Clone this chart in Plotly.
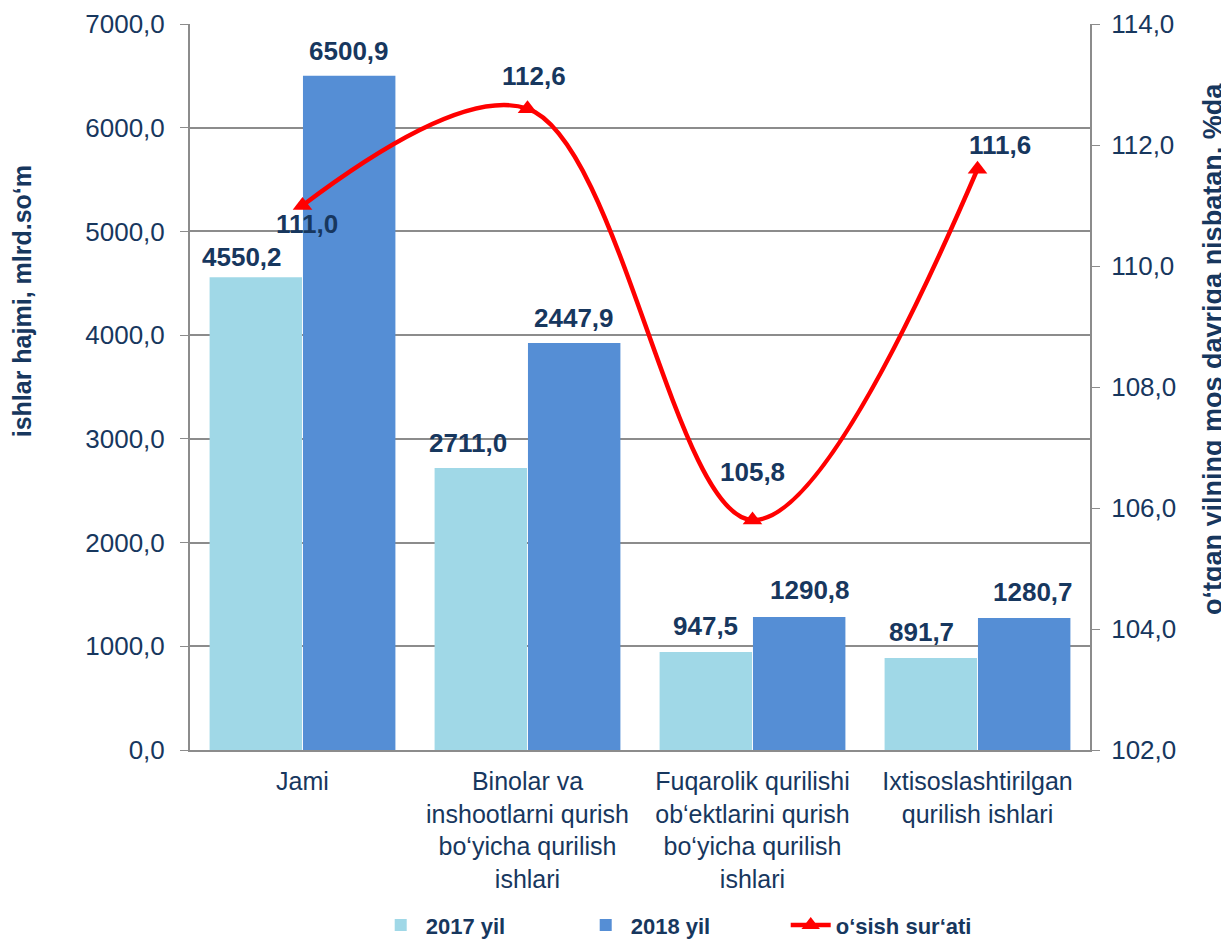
import plotly.graph_objects as go

categories = [
    "Jami",
    "Binolar va<br>inshootlarni qurish<br>bo‘yicha qurilish<br>ishlari",
    "Fuqarolik qurilishi<br>ob‘ektlarini qurish<br>bo‘yicha qurilish<br>ishlari",
    "Ixtisoslashtirilgan<br>qurilish ishlari",
]
# bar heights as drawn in the picture
bars_2017 = [4558, 2719, 945, 887]
bars_2018 = [6500, 3925, 1283, 1273]
# data labels as printed
labels_2017 = ["4550,2", "2711,0", "947,5", "891,7"]
labels_2018 = ["6500,9", "2447,9", "1290,8", "1280,7"]
growth = [111.0, 112.6, 105.8, 111.6]
growth_labels = ["111,0", "112,6", "105,8", "111,6"]

NAVY = "#17375E"
GRID = "#8C8C8C"
FONT = "Liberation Sans, Arial, sans-serif"

fig = go.Figure()
fig.add_trace(go.Bar(x=categories, y=bars_2017, name="<b>2017 yil</b>",
                     marker=dict(color="#A0D8E7", line=dict(width=0))))
fig.add_trace(go.Bar(x=categories, y=bars_2018, name="<b>2018 yil</b>",
                     marker=dict(color="#558ED5", line=dict(width=0))))
fig.add_trace(go.Scatter(x=categories, y=growth, yaxis="y2", name="<b>o‘sish sur‘ati</b>",
                         mode="lines+markers",
                         line=dict(color="#FF0000", width=4.5, shape="spline", smoothing=1.0),
                         marker=dict(symbol="triangle-up", size=17, color="#FF0000")))

annotations = []
bar_off = 46.75
x_adj_2017 = [-14, -13, 0, -9]
x_adj_2018 = [0, 0, 11, 9]
y_adj_2017 = [20, 25, 26, 26]
y_adj_2018 = [25, 25, 27, 26]
LBL = dict(size=26, color=NAVY, family=FONT)
for i, c in enumerate(categories):
    annotations.append(dict(x=c, y=bars_2017[i], xref="x", yref="y", text="<b>%s</b>" % labels_2017[i],
                            showarrow=False, xshift=-bar_off + x_adj_2017[i], yshift=y_adj_2017[i],
                            yanchor="middle", font=LBL))
    annotations.append(dict(x=c, y=bars_2018[i], xref="x", yref="y", text="<b>%s</b>" % labels_2018[i],
                            showarrow=False, xshift=bar_off + x_adj_2018[i], yshift=y_adj_2018[i],
                            yanchor="middle", font=LBL))
line_xs = [4, 6, 0, 22]
line_ys = [-18, 33, 48, 24]
for i, c in enumerate(categories):
    annotations.append(dict(x=c, y=growth[i], xref="x", yref="y2", text="<b>%s</b>" % growth_labels[i],
                            showarrow=False, xshift=line_xs[i], yshift=line_ys[i],
                            yanchor="middle", font=LBL))

annotations.append(dict(x=-0.1867, y=0.618, xref="paper", yref="paper", text="<b>ishlar hajmi, mlrd.so‘m</b>",
                        textangle=-90, showarrow=False, xanchor="center", yanchor="middle",
                        font=dict(size=25, color=NAVY, family=FONT)))
annotations.append(dict(x=1.136, y=0.553, xref="paper", yref="paper",
                        text="<b>o‘tgan yilning mos davriga nisbatan, %da</b>",
                        textangle=-90, showarrow=False, xanchor="center", yanchor="middle",
                        font=dict(size=27, color=NAVY, family=FONT)))

fig.update_layout(
    width=1221, height=936,
    margin=dict(l=182, r=139, t=16, b=194),
    paper_bgcolor="white", plot_bgcolor="white",
    separators=", ",
    barmode="group", bargap=0.17, bargroupgap=0.01,
    font=dict(family=FONT, color=NAVY, size=25),
    showlegend=True,
    legend=dict(orientation="h", xref="container", yref="container", x=0.553, y=0.02,
                xanchor="center", yanchor="middle",
                font=dict(size=22, color=NAVY, family=FONT), itemwidth=40, entrywidth=150,
                traceorder="normal"),
    xaxis=dict(showline=True, linecolor=GRID, linewidth=2, ticks="", automargin=False,
               tickfont=dict(size=25, color=NAVY, family=FONT), showgrid=False, ticklabelstandoff=8),
    yaxis=dict(range=[0, 7000], dtick=1000, tickformat=".1f", showgrid=True, gridcolor=GRID, gridwidth=1.5,
               showline=True, linecolor=GRID, linewidth=2, ticks="outside", ticklen=8, tickcolor=GRID,
               tickfont=dict(size=26, color=NAVY, family=FONT), zeroline=False, ticklabelstandoff=10,
               automargin=False),
    yaxis2=dict(range=[102, 114], dtick=2, tickformat=".1f", overlaying="y", side="right", showgrid=False,
                showline=True, linecolor=GRID, linewidth=2, ticks="outside", ticklen=8, tickcolor=GRID,
                tickfont=dict(size=26, color=NAVY, family=FONT), zeroline=False, ticklabelstandoff=6,
                automargin=False),
    annotations=annotations,
    hovermode=False,
)

fig.write_html("out.html")
